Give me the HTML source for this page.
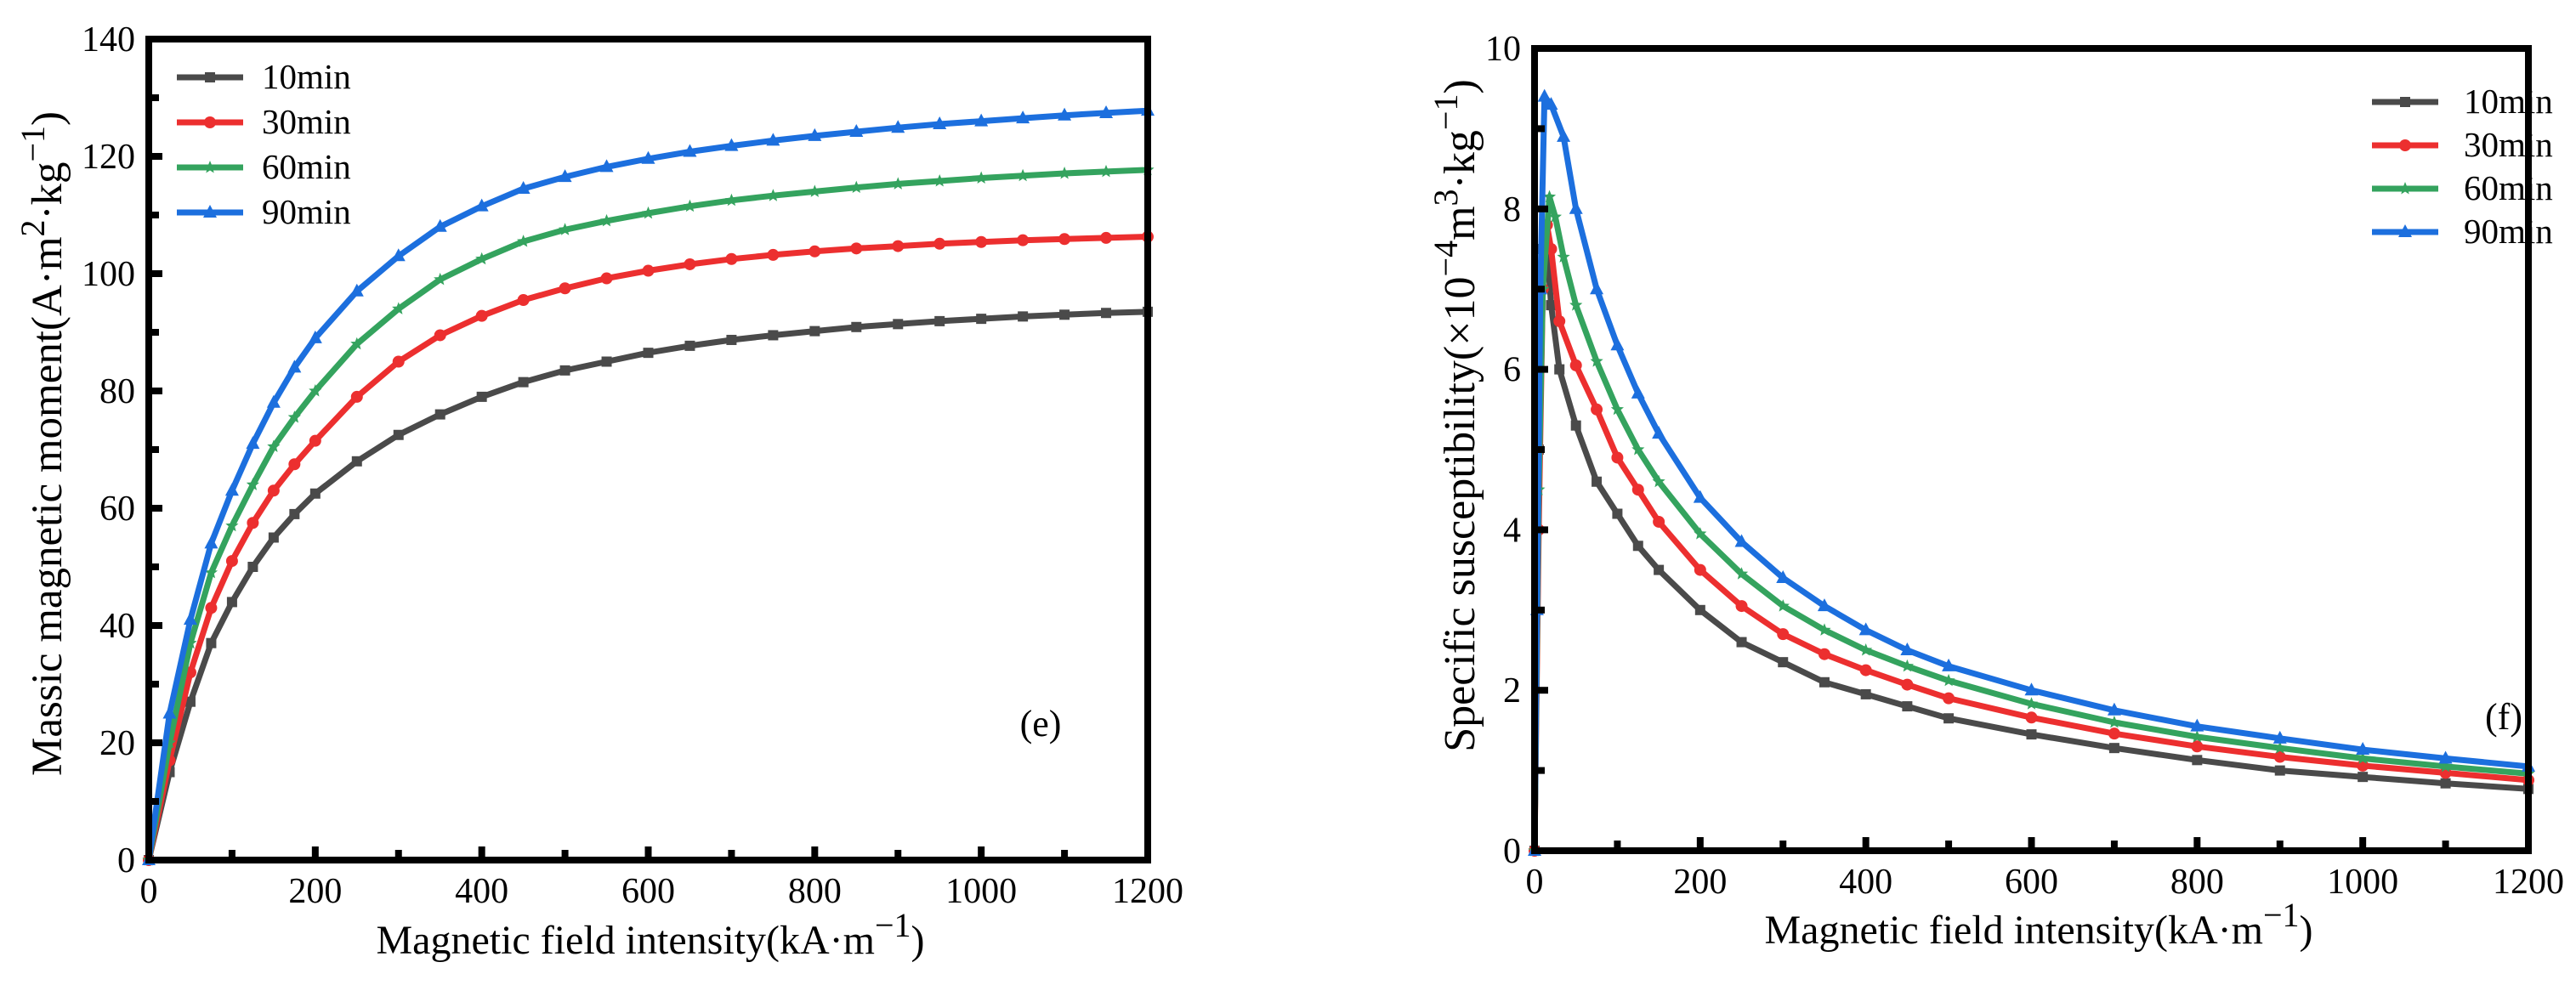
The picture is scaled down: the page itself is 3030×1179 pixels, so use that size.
<!DOCTYPE html>
<html><head><meta charset="utf-8"><style>
html,body{margin:0;padding:0;background:#fff;}
svg{display:block;font-family:"Liberation Serif",serif;}
</style></head><body>
<svg id="c" width="3030" height="1179" viewBox="0 0 3030 1179" xmlns="http://www.w3.org/2000/svg"></svg>
<script>
// ---------- Chart (e) data ----------
const eX = [0,25,50,75,100,125,150,175,200,250,300,350,400,450,500,550,600,650,700,750,800,850,900,950,1000,1050,1100,1150,1200];
const e10 = [0,15,27,37,44,50,55,59,62.5,68,72.5,76,79,81.5,83.5,85,86.5,87.7,88.7,89.5,90.2,90.9,91.4,91.9,92.3,92.7,93,93.3,93.5];
const e30 = [0,17,32,43,51,57.5,63,67.5,71.5,79,85,89.5,92.8,95.5,97.5,99.2,100.5,101.6,102.5,103.2,103.8,104.3,104.7,105.1,105.4,105.7,105.9,106.1,106.3];
const e60 = [0,20,37,49,57,64,70.5,75.5,80,88,94,99,102.5,105.5,107.5,109,110.3,111.5,112.5,113.3,114,114.7,115.3,115.8,116.3,116.7,117.1,117.4,117.7];
const e90 = [0,25,41,54,63,71,78,84,89,97,103,108,111.5,114.5,116.5,118.2,119.6,120.8,121.8,122.7,123.5,124.2,124.9,125.5,126,126.5,127,127.4,127.8];
const eYTicks = [0,20,40,60,80,100,120,140];
const xTicks = [0,200,400,600,800,1000,1200];
// ---------- Chart (f) data ----------
const f10X = [0,5,10,13,20,30,50,75,100,125,150,200,250,300,350,400,450,500,600,700,800,900,1000,1100,1200];
const f10 = [0,5,7.5,7.8,6.8,6.0,5.3,4.6,4.2,3.8,3.5,3.0,2.6,2.35,2.1,1.95,1.8,1.65,1.45,1.28,1.13,1.0,0.92,0.84,0.77];
const f30X = [0,5,10,15,20,30,50,75,100,125,150,200,250,300,350,400,450,500,600,700,800,900,1000,1100,1200];
const f30 = [0,4,7,7.8,7.5,6.6,6.05,5.5,4.9,4.5,4.1,3.5,3.05,2.7,2.45,2.25,2.07,1.9,1.66,1.46,1.3,1.17,1.06,0.97,0.88];
const f60X = [0,5,10,18,25,35,50,75,100,125,150,200,250,300,350,400,450,500,600,700,800,900,1000,1100,1200];
const f60 = [0,4.5,7,8.15,7.9,7.4,6.8,6.1,5.5,5.0,4.6,3.95,3.45,3.05,2.75,2.5,2.3,2.12,1.83,1.6,1.42,1.28,1.15,1.05,0.96];
const f90X = [0,3,7,12,20,35,50,75,100,125,150,200,250,300,350,400,450,500,600,700,800,900,1000,1100,1200];
const f90 = [0,3,7,9.4,9.3,8.9,8.0,7.0,6.3,5.7,5.2,4.4,3.85,3.4,3.05,2.75,2.5,2.3,2.0,1.75,1.55,1.4,1.26,1.15,1.05];
const fYTicks = [0,2,4,6,8,10];
const seriesNames = ["10min","30min","60min","90min"];
const colors = ["#4a4a4a","#ec2f2f","#34a35e","#1c6fde"];
const markers = ["square","circle","star","triangle"];

const NS="http://www.w3.org/2000/svg";
const svg=document.getElementById('c');
function mk(tag,attrs,parent){const el=document.createElementNS(NS,tag);for(const k in attrs)el.setAttribute(k,attrs[k]);(parent||svg).appendChild(el);return el;}

function marker(g,type,x,y,color){
  let el;
  if(type==="square") el=mk('rect',{x:x-6,y:y-6,width:12,height:12,fill:color},g);
  else if(type==="circle") el=mk('circle',{cx:x,cy:y,r:7,fill:color},g);
  else if(type==="triangle") el=mk('polygon',{points:`${x},${y-9} ${x-8},${y+6} ${x+8},${y+6}`,fill:color},g);
  else { let p=[];for(let i=0;i<10;i++){const r=i%2?3.5:8;const a=-Math.PI/2+i*Math.PI/5;p.push((x+r*Math.cos(a)).toFixed(1)+","+(y+r*Math.sin(a)).toFixed(1));}
    el=mk('polygon',{points:p.join(' '),fill:color},g);}
  
  
}

function chart(o){
  const g=mk('g',{});
  
  
  const sx=v=>o.x0+(v-0)/1200*(o.x1-o.x0);
  const sy=v=>o.y1-(v/o.ymax)*(o.y1-o.y0);
  o.series.forEach((s,i)=>{
    const sg=mk('g',{},g);
    
    
    const pts=s.x.map((xv,j)=>sx(xv).toFixed(1)+","+sy(s.y[j]).toFixed(1)).join(' ');
    const pl=mk('polyline',{points:pts,fill:'none',stroke:colors[i],'stroke-width':7,'stroke-linejoin':'round'},sg);
    
    
    s.x.forEach((xv,j)=>marker(sg,markers[i],sx(xv),sy(s.y[j]),colors[i]));
  });
  const fr=mk('rect',{x:o.x0,y:o.y0,width:o.x1-o.x0,height:o.y1-o.y0,fill:'none',stroke:'#000','stroke-width':8},g);
  
  
  for(let v=0;v<=1200;v+=100){
    const len=v%200===0?16:12;
    const t=mk('line',{x1:sx(v),x2:sx(v),y1:o.y1,y2:o.y1-len,stroke:'#000','stroke-width':8},g);
    
    
  }
  xTicks.forEach(v=>{
    const t=mk('text',{x:sx(v),y:o.y1+50,'font-size':42,'text-anchor':'middle'},g);
    t.textContent=v;
    
    
  });
  o.yTicks.forEach((v,k)=>{
    const t=mk('line',{x1:o.x0,x2:o.x0+16,y1:sy(v),y2:sy(v),stroke:'#000','stroke-width':8},g);
    
    
    if(k<o.yTicks.length-1){
      const mv=(v+o.yTicks[k+1])/2;
      const m=mk('line',{x1:o.x0,x2:o.x0+12,y1:sy(mv),y2:sy(mv),stroke:'#000','stroke-width':8},g);
      
      
    }
    const l=mk('text',{x:o.x0-16,y:sy(v)+14,'font-size':42,'text-anchor':'end'},g);
    l.textContent=v;
    
    
  });
  const xt=mk('text',{x:o.xtx,y:o.xty,'font-size':48,'text-anchor':'middle'},g);
  xt.innerHTML='Magnetic field intensity(kA·m<tspan dy="-20" font-size="40">−1</tspan><tspan dy="20">)</tspan>';
  
  
  const yt=mk('text',{x:0,y:0,'font-size':o.yfs,'text-anchor':'middle',transform:`translate(${o.ytx},${o.yty}) rotate(-90)`},g);
  yt.innerHTML=o.ytitle;
  
  
  const lg=mk('g',{},g);
  
  
  seriesNames.forEach((n,i)=>{
    const y=o.ly+i*o.ldy;
    const e=mk('g',{},lg);
    
    
    mk('line',{x1:o.lx,x2:o.lx+78,y1:y,y2:y,stroke:colors[i],'stroke-width':7},e);
    marker(e,markers[i],o.lx+39,y,colors[i]);
    const t=mk('text',{x:o.lx+o.ltx,y:y+13,'font-size':41},e);
    t.textContent=n;
  });
  const p=mk('text',{x:o.px,y:o.py,'font-size':44,'text-anchor':'middle'},g);
  p.textContent=o.panel;
  
  
}

chart({name:'chart-e',x0:175,x1:1350,y0:46,y1:1012,ymax:140,yTicks:eYTicks,
  series:[{x:eX,y:e10},{x:eX,y:e30},{x:eX,y:e60},{x:eX,y:e90}],
  xtx:765,xty:1122,ytx:72,yty:522,yfs:51,
  ytitle:'Massic magnetic moment(A·m<tspan dy="-20" font-size="40">2</tspan><tspan dy="20">·kg</tspan><tspan dy="-20" font-size="40">−1</tspan><tspan dy="20">)</tspan>',
  lx:208,ly:91,ldy:53,ltx:100,px:1224,py:866,panel:'(e)'});
chart({name:'chart-f',x0:1805,x1:2974,y0:57,y1:1001,ymax:10,yTicks:fYTicks,
  series:[{x:f10X,y:f10},{x:f30X,y:f30},{x:f60X,y:f60},{x:f90X,y:f90}],
  xtx:2398,xty:1110,ytx:1734,yty:489,yfs:52,
  ytitle:'Specific susceptibility(×10<tspan dy="-20" font-size="40">−4</tspan><tspan dy="20">m</tspan><tspan dy="-20" font-size="40">3</tspan><tspan dy="20">·kg</tspan><tspan dy="-20" font-size="40">−1</tspan><tspan dy="20">)</tspan>',
  lx:2790,ly:120,ldy:51,ltx:108,px:2945,py:858,panel:'(f)'});
</script>
</body></html>
